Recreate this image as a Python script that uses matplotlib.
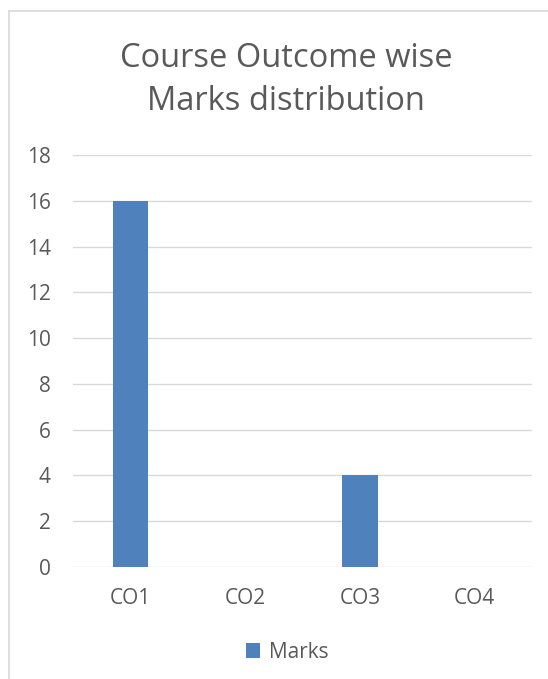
import matplotlib.pyplot as plt
from matplotlib.lines import Line2D
import numpy as np

# marks per course outcome
outcomes = ['CO1', 'CO2', 'CO3', 'CO4']
marks = [16, 0, 4, 0]
y_ticks = [0, 2, 4, 6, 8, 10, 12, 14, 16, 18]

plt.rcParams['font.family'] = ['Open Sans', 'DejaVu Sans']
text_color = '#595959'
grid_color = '#d9d9d9'
bar_color = '#4f81bd'

fig = plt.figure(figsize=(5.48, 6.79), dpi=100)
ax = fig.add_axes([0.1332, 0.1649, 0.9708 - 0.1332, 0.7717 - 0.1649])

x = np.arange(len(outcomes))
ax.bar(x, marks, width=0.31, color=bar_color, label='Marks', zorder=3)

ax.set_xlim(-0.5, len(outcomes) - 0.5)
ax.set_ylim(0, 18)
ax.set_yticks(y_ticks)
ax.set_xticks(x)
ax.set_xticklabels(outcomes)
ax.yaxis.grid(True, color=grid_color, linewidth=1.0, zorder=0)
for s in ax.spines.values():
    s.set_visible(False)
ax.tick_params(axis='both', length=0, labelsize=15, labelcolor=text_color)
ax.tick_params(axis='y', pad=16)
ax.tick_params(axis='x', pad=15)

# chart frame (top and left edges)
fig.add_artist(Line2D([9 / 548, 1.0], [1 - 11 / 679, 1 - 11 / 679], color=grid_color, linewidth=1.2))
fig.add_artist(Line2D([9 / 548, 9 / 548], [1 - 11 / 679, 0.0], color=grid_color, linewidth=1.2))

fig.text(0.522, 1 - 80 / 679, 'Course Outcome wise\nMarks distribution', ha='center', va='center',
         fontsize=23.5, color=text_color, linespacing=1.4)

fig.legend(loc='center', bbox_to_anchor=(0.524, 1 - 652 / 679), frameon=False, fontsize=15,
           labelcolor=text_color, handlelength=0.7, handleheight=0.7, handletextpad=0.4)

fig.savefig('out.png', dpi=100)
